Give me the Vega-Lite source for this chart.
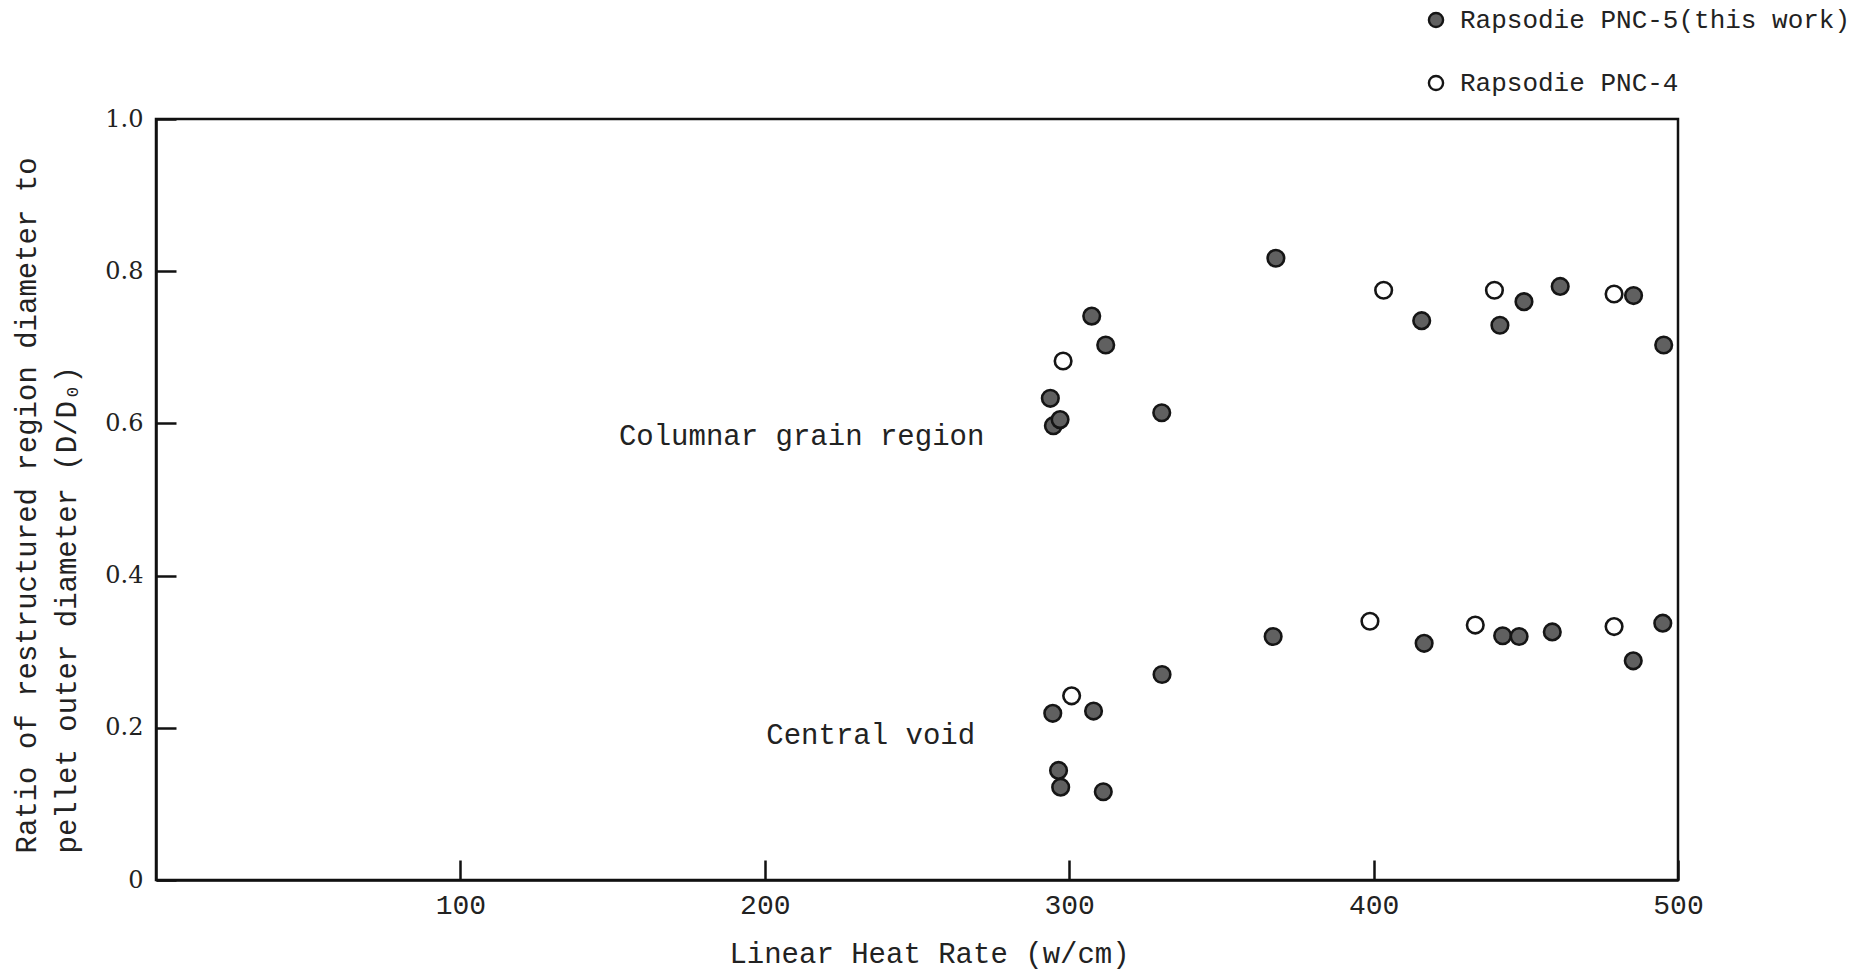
{
  "$schema": "https://vega.github.io/schema/vega-lite/v6.json",
  "autosize": {"type": "none"},
  "padding": {"left": 156, "top": 119, "right": 187, "bottom": 92},
  "width": 1522,
  "height": 761,
  "background": "white",
  "config": {
    "view": {"stroke": "#111", "strokeWidth": 2.5},
    "axis": {
      "grid": false,
      "domainColor": "#111",
      "domainWidth": 2.5,
      "tickColor": "#111",
      "tickWidth": 2.5,
      "tickSize": -20,
      "labelFlush": false,
      "labelOverlap": false,
      "labelColor": "#222",
      "titleColor": "#222",
      "titleFontWeight": "normal"
    }
  },
  "datasets": {
    "points": [
      {"series": "Rapsodie PNC-5(this work)", "rate": 293.8, "ratio": 0.633},
      {"series": "Rapsodie PNC-5(this work)", "rate": 294.8, "ratio": 0.597},
      {"series": "Rapsodie PNC-5(this work)", "rate": 297.0, "ratio": 0.605},
      {"series": "Rapsodie PNC-5(this work)", "rate": 307.4, "ratio": 0.741},
      {"series": "Rapsodie PNC-5(this work)", "rate": 312.0, "ratio": 0.703},
      {"series": "Rapsodie PNC-5(this work)", "rate": 330.4, "ratio": 0.614},
      {"series": "Rapsodie PNC-5(this work)", "rate": 367.9, "ratio": 0.817},
      {"series": "Rapsodie PNC-5(this work)", "rate": 415.8, "ratio": 0.735},
      {"series": "Rapsodie PNC-5(this work)", "rate": 441.5, "ratio": 0.729},
      {"series": "Rapsodie PNC-5(this work)", "rate": 449.4, "ratio": 0.760},
      {"series": "Rapsodie PNC-5(this work)", "rate": 461.3, "ratio": 0.780},
      {"series": "Rapsodie PNC-5(this work)", "rate": 485.4, "ratio": 0.768},
      {"series": "Rapsodie PNC-5(this work)", "rate": 495.3, "ratio": 0.703},
      {"series": "Rapsodie PNC-5(this work)", "rate": 294.6, "ratio": 0.219},
      {"series": "Rapsodie PNC-5(this work)", "rate": 308.0, "ratio": 0.222},
      {"series": "Rapsodie PNC-5(this work)", "rate": 296.5, "ratio": 0.144},
      {"series": "Rapsodie PNC-5(this work)", "rate": 297.2, "ratio": 0.122},
      {"series": "Rapsodie PNC-5(this work)", "rate": 311.2, "ratio": 0.116},
      {"series": "Rapsodie PNC-5(this work)", "rate": 330.5, "ratio": 0.270},
      {"series": "Rapsodie PNC-5(this work)", "rate": 367.0, "ratio": 0.320},
      {"series": "Rapsodie PNC-5(this work)", "rate": 416.6, "ratio": 0.311},
      {"series": "Rapsodie PNC-5(this work)", "rate": 442.4, "ratio": 0.321},
      {"series": "Rapsodie PNC-5(this work)", "rate": 447.8, "ratio": 0.320},
      {"series": "Rapsodie PNC-5(this work)", "rate": 458.7, "ratio": 0.326},
      {"series": "Rapsodie PNC-5(this work)", "rate": 485.3, "ratio": 0.288},
      {"series": "Rapsodie PNC-5(this work)", "rate": 495.0, "ratio": 0.3375},
      {"series": "Rapsodie PNC-4", "rate": 298.0, "ratio": 0.682},
      {"series": "Rapsodie PNC-4", "rate": 403.3, "ratio": 0.775},
      {"series": "Rapsodie PNC-4", "rate": 439.7, "ratio": 0.775},
      {"series": "Rapsodie PNC-4", "rate": 479.0, "ratio": 0.770},
      {"series": "Rapsodie PNC-4", "rate": 300.8, "ratio": 0.242},
      {"series": "Rapsodie PNC-4", "rate": 398.8, "ratio": 0.340},
      {"series": "Rapsodie PNC-4", "rate": 433.4, "ratio": 0.335},
      {"series": "Rapsodie PNC-4", "rate": 479.0, "ratio": 0.333}
    ],
    "notes": [
      {"label": "Columnar grain region", "rate": 212.1, "ratio": 0.583},
      {"label": "Central void", "rate": 234.8, "ratio": 0.191}
    ]
  },
  "encoding": {
    "x": {
      "field": "rate",
      "type": "quantitative",
      "scale": {"domain": [0, 500], "nice": false, "zero": true},
      "axis": {
        "values": [100, 200, 300, 400, 500],
        "title": "Linear Heat Rate (w/cm)",
        "titleFont": "Liberation Mono",
        "titleFontSize": 29,
        "titleX": 773,
        "titleY": 73,
        "titleBaseline": "middle",
        "labelFont": "Liberation Mono",
        "labelFontSize": 28,
        "labelBaseline": "top",
        "labelPadding": 31
      }
    },
    "y": {
      "field": "ratio",
      "type": "quantitative",
      "scale": {"domain": [0, 1], "nice": false},
      "axis": {
        "values": [0, 0.2, 0.4, 0.6, 0.8, 1.0],
        "labelExpr": "datum.value == 0 ? '0' : format(datum.value, '.1f')",
        "labelFont": "DejaVu Serif",
        "labelFontSize": 24,
        "labelBaseline": "middle",
        "labelPadding": 33,
        "title": ["Ratio of restructured region diameter to", "pellet outer diameter (D/D₀)"],
        "titleFont": "Liberation Mono",
        "titleFontSize": 29,
        "titleLineHeight": 40,
        "titleAngle": 270,
        "titleAlign": "left",
        "titleBaseline": "top",
        "titleX": -144,
        "titleY": 734
      }
    }
  },
  "layer": [
    {
      "data": {"name": "points"},
      "mark": {"type": "point", "shape": "circle", "filled": true, "size": 275, "stroke": "#151515", "strokeWidth": 2.6, "opacity": 1},
      "encoding": {
        "fill": {
          "field": "series",
          "type": "nominal",
          "scale": {"domain": ["Rapsodie PNC-5(this work)", "Rapsodie PNC-4"], "range": ["#606060", "#ffffff"]},
          "legend": {
            "title": null,
            "orient": "none",
            "legendX": 1267,
            "legendY": -112,
            "padding": 0,
            "symbolType": "circle",
            "symbolSize": 200,
            "symbolStrokeColor": "#151515",
            "symbolStrokeWidth": 2.4,
            "symbolOpacity": 1,
            "labelFont": "Liberation Mono",
            "labelFontSize": 26,
            "labelColor": "#222",
            "labelOffset": 11,
            "rowPadding": 37,
            "labelLimit": 500
          }
        }
      }
    },
    {
      "data": {"name": "notes"},
      "mark": {"type": "text", "font": "Liberation Mono", "fontSize": 29, "color": "#222", "align": "center", "baseline": "middle"},
      "encoding": {
        "text": {"field": "label"}
      }
    }
  ]
}
